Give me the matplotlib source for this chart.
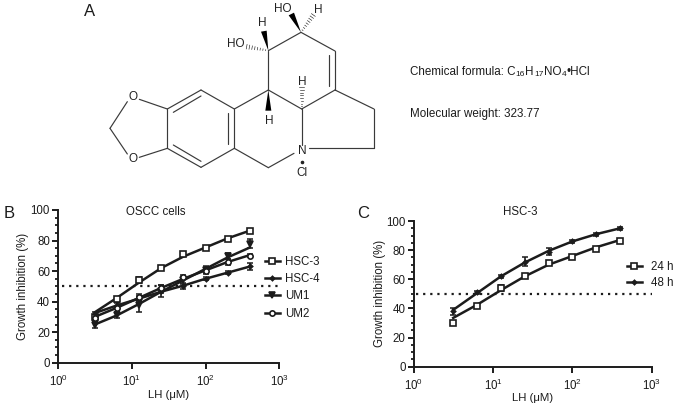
import matplotlib
matplotlib.use("Agg")
import matplotlib.pyplot as plt
from matplotlib.patches import Polygon
from matplotlib.ticker import LogLocator, MultipleLocator, NullFormatter, FixedLocator

plt.rcParams['font.family'] = ['Liberation Sans', 'DejaVu Sans']
plt.rcParams['mathtext.fontset'] = 'custom'
plt.rcParams['mathtext.rm'] = 'Liberation Sans'
plt.rcParams['mathtext.it'] = 'Liberation Sans'
plt.rcParams['mathtext.bf'] = 'Liberation Sans'

W, H = 677, 407
INK = '#1c1c1c'

# ---------- data ----------
dose = [3.125, 6.25, 12.5, 25, 50, 100, 200, 400]
hsc3_pts = [30, 42, 54, 62, 71, 75, 81, 86]
hsc3_fit = [33, 42.5, 52.5, 62, 69.5, 75.5, 81.5, 86.5]
hsc3_err = [1, 1, 2, 1, 1, 1, 1, 1]
hsc4_pts = [32, 38, 42, 47, 50, 55, 59, 63]
hsc4_fit = [32.5, 37.5, 42, 46.5, 50.5, 55, 59, 63]
hsc4_err = [1.5, 2, 1.5, 1.5, 1.5, 1, 1, 2.5]
um1_pts = [25, 31, 38, 47, 54, 61, 70, 78]
um1_fit = [25, 31, 38.5, 46.5, 54, 61.5, 69, 75.5]
um1_err = [2, 2, 5, 4, 2, 2, 2, 3]
um2_pts = [29, 36, 43, 49, 56, 60, 66, 70]
um2_fit = [30, 36, 42.5, 49, 55, 60.5, 66, 70.5]
um2_err = [1.5, 3, 2, 2, 1.5, 2, 2, 1]
h48_pts = [38, 51, 62, 72, 79, 86, 91, 95]
h48_fit = [39, 50.5, 62, 71.5, 79.5, 86, 91, 95]
h48_err = [2.5, 1, 1, 3, 2.5, 1, 1, 1]
h24_fit = [33.5, 42.5, 52.5, 62, 70, 76, 82, 87]
threshold = 50

fig = plt.figure(figsize=(W / 100, H / 100), dpi=100, facecolor='white')


def axes_px(l, t, r, b):
    return fig.add_axes([l / W, 1 - b / H, (r - l) / W, (b - t) / H])


def style(ax, tickpad, xlabelpad, ylabelpad):
    ax.set_xscale('log')
    ax.set_xlim(1, 1000)
    ax.set_ylim(0, 100)
    for s in ('top', 'right'):
        ax.spines[s].set_visible(False)
    for s in ('left', 'bottom'):
        ax.spines[s].set_linewidth(1.4)
        ax.spines[s].set_color(INK)
    ax.yaxis.set_major_locator(MultipleLocator(20))
    ax.yaxis.set_minor_locator(MultipleLocator(5))
    ax.xaxis.set_major_locator(LogLocator(base=10, numticks=5))
    ax.xaxis.set_minor_locator(FixedLocator([]))
    ax.xaxis.set_minor_formatter(NullFormatter())
    ax.tick_params(axis='both', which='major', length=4, width=1.4,
                   labelsize=8.3, color=INK, labelcolor=INK, pad=2)
    ax.tick_params(axis='x', which='major', pad=tickpad)
    ax.tick_params(axis='y', which='minor', length=2, width=1.3, color=INK)
    ax.patch.set_alpha(0)
    ax.set_ylabel('Growth inhibition (%)', fontsize=8.3, color=INK, labelpad=ylabelpad)
    ax.set_xlabel('LH (μM)', fontsize=8.2, color=INK, labelpad=xlabelpad)


def series(ax, fit, pts, err, marker, label, ms, mfc='white'):
    ax.errorbar(dose, pts, yerr=err, fmt='none', ecolor=INK, elinewidth=1.2,
                capsize=2, capthick=1.1, zorder=3)
    ax.plot(dose, fit, color=INK, lw=1.8, zorder=3)
    ax.plot(dose, pts, ls='none', marker=marker, ms=ms, mfc=mfc, mec=INK,
            mew=1.2, zorder=4)
    ax.plot([], [], color=INK, lw=1.8, marker=marker, ms=ms, mfc=mfc, mec=INK,
            mew=1.2, label=label)


def legend(ax, x, y, textpad, spacing):
    ax.legend(loc='upper left', bbox_to_anchor=(x, y), frameon=False,
              fontsize=8.3, handlelength=1.3, handletextpad=textpad,
              labelspacing=spacing, borderpad=0, borderaxespad=0, labelcolor=INK)


# ---------- panel B ----------
axb = axes_px(58.3, 210, 279.3, 362.7)
style(axb, 4, 1, 1)
axb.plot([1.12, 1000], [threshold, threshold], color=INK, lw=1.6, ls=(0, (1, 2.2)))
series(axb, hsc3_fit, hsc3_pts, hsc3_err, 's', 'HSC-3', 4.2)
series(axb, hsc4_fit, hsc4_pts, hsc4_err, 'D', 'HSC-4', 2.2, INK)
series(axb, um1_fit, um1_pts, um1_err, 'v', 'UM1', 4.2, INK)
series(axb, um2_fit, um2_pts, um2_err, 'o', 'UM2', 3.8)
axb.text(0.44, 0.987, 'OSCC cells', transform=axb.transAxes, ha='center',
         va='center', fontsize=8.3, color=INK)
legend(axb, 0.935, 0.70, 0.43, 0.46)

# ---------- panel C ----------
axc = axes_px(414, 221, 651.7, 366.7)
style(axc, 4, 0, 0)
axc.plot([1.06, 1000], [threshold, threshold], color=INK, lw=1.6, ls=(0, (1, 2.2)))
series(axc, h24_fit, hsc3_pts, hsc3_err, 's', '24 h', 4.2)
series(axc, h48_fit, h48_pts, h48_err, 'D', '48 h', 2.2, INK)
axc.text(0.445, 1.06, 'HSC-3', transform=axc.transAxes, ha='center',
         va='center', fontsize=8.3, color=INK)
legend(axc, 0.896, 0.727, 0.78, 0.4)

# ---------- panel A: structure diagram (pixel overlay) ----------
ov = fig.add_axes([0, 0, 1, 1])
ov.set_xlim(0, W)
ov.set_ylim(H, 0)
ov.axis('off')
ov.patch.set_alpha(0)


def Z(p):
    return 90 + p[0] / 3, p[1] / 3


bonds = [
    ((232, 327), (333, 270)), ((333, 270), (433, 327)), ((433, 327), (433, 445)),
    ((433, 445), (333, 502)), ((333, 502), (232, 445)), ((232, 445), (232, 327)),
    ((250, 337), (333, 288)), ((415, 340), (415, 432)), ((250, 435), (333, 484)),
    ((232, 327), (148, 298)), ((112, 305), (60, 385)), ((60, 385), (112, 462)),
    ((148, 472), (232, 445)),
    ((433, 327), (535, 270)), ((535, 270), (535, 152)), ((535, 152), (633, 97)),
    ((633, 97), (735, 153)), ((735, 153), (735, 270)), ((718, 165), (718, 258)),
    ((735, 270), (635, 327)), ((535, 270), (635, 327)), ((635, 327), (635, 435)),
    ((433, 445), (535, 503)), ((535, 503), (612, 460)), ((658, 445), (852, 445)),
    ((852, 445), (852, 327)), ((852, 327), (735, 270)),
]
for a, b in bonds:
    (x0, y0), (x1, y1) = Z(a), Z(b)
    ov.plot([x0, x1], [y0, y1], color='#3a3a3a', lw=0.85, solid_capstyle='round')

wedges = [
    ((535, 152), (513, 95), (530, 92)),
    ((633, 97), (596, 46), (612, 38)),
    ((535, 270), (526, 332), (544, 332)),
]
for w in wedges:
    ov.add_patch(Polygon([Z(p) for p in w], closed=True, fc='black', ec='none'))

hashes = [
    ((535, 152), (470, 140)),
    ((633, 97), (670, 45)),
    ((635, 327), (635, 262)),
]
for a, b in hashes:
    (x0, y0), (x1, y1) = Z(a), Z(b)
    n = 8
    for i in range(1, n + 1):
        t = i / n
        xm, ym = x0 + (x1 - x0) * t, y0 + (y1 - y0) * t
        dx, dy = (x1 - x0), (y1 - y0)
        L = (dx ** 2 + dy ** 2) ** 0.5
        hw = 0.3 + 2.0 * t
        ov.plot([xm - dy / L * hw, xm + dy / L * hw],
                [ym + dx / L * hw, ym - dx / L * hw], color='#222222', lw=0.45)

atoms = [
    ('O', 130, 292), ('O', 130, 478), ('N', 636, 452), ('Cl', 637, 520),
    ('HO', 437, 133), ('HO', 578, 28), ('H', 517, 70), ('H', 685, 30),
    ('H', 537, 362), ('H', 637, 245),
]
for s, x, y in atoms:
    px, py = Z((x, y))
    ov.text(px, py, s, ha='center', va='center', fontsize=8.5, color='#222222')
px, py = Z((637, 485))
ov.plot([px], [py], marker='o', ms=1.6, color='#222222')

# formula built from normal and subscript pieces
renderer = fig.canvas.get_renderer()
pieces = [('Chemical formula: C', 0), ('16', 1), ('H', 0), ('17', 1), ('NO', 0),
          ('4', 1), ('•HCl', 0)]
cursor = 410.0
for s, sub in pieces:
    t = ov.text(cursor, 75 if sub else 72.3, s, fontsize=6 if sub else 8.4,
                va='center', ha='left', color=INK)
    cursor = t.get_window_extent(renderer).x1 + 0.3
ov.text(410, 114, 'Molecular weight: 323.77', fontsize=8.4, va='center',
        ha='left', color=INK)

for s, x, y in [('A', 90, 11), ('B', 9, 214), ('C', 363, 214)]:
    ov.text(x, y, s, fontsize=12, ha='center', va='center', color=INK)

fig.savefig('out.png', dpi=100)
